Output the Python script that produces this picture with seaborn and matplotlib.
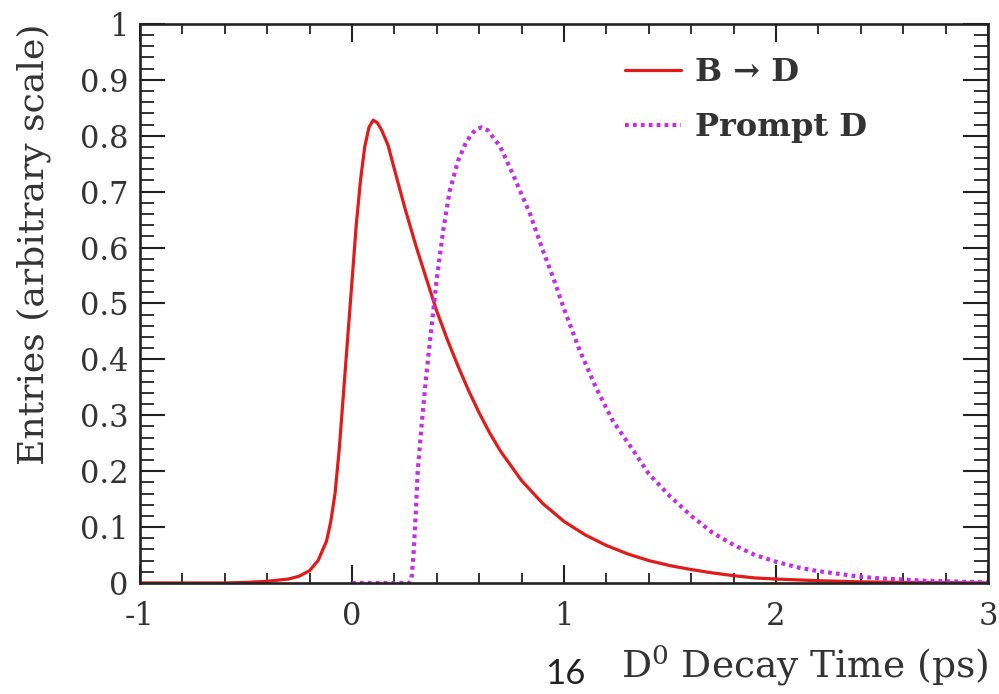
#!/usr/bin/env python3
# -*- coding: utf-8 -*-
"""D0 decay time distributions: B -> D versus prompt D."""

import matplotlib
matplotlib.use('Agg')
import matplotlib.pyplot as plt
from matplotlib.ticker import MultipleLocator
import seaborn as sns

# 数据：曲线点
t_bd = [-1.0, -0.6, -0.5, -0.4, -0.3, -0.25, -0.2, -0.16, -0.12, -0.1, -0.08,
        -0.06, -0.04, -0.02, 0.0, 0.02, 0.04, 0.06, 0.08, 0.1, 0.12, 0.14,
        0.17, 0.2, 0.25, 0.3, 0.35, 0.4, 0.45, 0.5, 0.55, 0.6, 0.65, 0.7,
        0.8, 0.9, 1.0, 1.1, 1.2, 1.3, 1.4, 1.5, 1.6, 1.7, 1.8, 1.9, 2.0, 2.2,
        2.4, 2.6, 2.8, 3.0]
y_bd = [0.0, 0.0, 0.001, 0.003, 0.007, 0.012, 0.022, 0.04, 0.075, 0.11, 0.16,
        0.24, 0.34, 0.44, 0.54, 0.64, 0.72, 0.78, 0.815, 0.828, 0.823, 0.81,
        0.783, 0.74, 0.67, 0.605, 0.545, 0.486, 0.435, 0.388, 0.344, 0.304,
        0.268, 0.236, 0.183, 0.142, 0.11, 0.086, 0.067, 0.052, 0.04, 0.031,
        0.024, 0.018, 0.013, 0.009, 0.007, 0.004, 0.002, 0.001, 0.0005, 0.0]

t_prompt = [0.0, 0.27, 0.28, 0.29, 0.3, 0.31, 0.33, 0.35, 0.37, 0.4, 0.43,
            0.46, 0.5, 0.54, 0.58, 0.61, 0.64, 0.67, 0.7, 0.76, 0.8, 0.84,
            0.9, 0.95, 1.0, 1.075, 1.15, 1.23, 1.33, 1.4, 1.5, 1.6, 1.7, 1.8,
            1.9, 2.0, 2.1, 2.2, 2.3, 2.4, 2.5, 2.6, 2.7, 2.8, 2.9, 3.0]
y_prompt = [0.0, 0.0, 0.005, 0.05, 0.12, 0.2, 0.29, 0.37, 0.44, 0.545, 0.63,
            0.70, 0.755, 0.79, 0.81, 0.815, 0.81, 0.795, 0.78, 0.73, 0.695,
            0.66, 0.595, 0.545, 0.49, 0.415, 0.35, 0.29, 0.235, 0.195, 0.155,
            0.12, 0.09, 0.068, 0.05, 0.038, 0.028, 0.021, 0.016, 0.011, 0.008,
            0.006, 0.004, 0.003, 0.002, 0.001]

x_ticks = [-1, 0, 1, 2, 3]
x_tick_labels = ['-1', '0', '1', '2', '3']
y_ticks = [0.0, 0.1, 0.2, 0.3, 0.4, 0.5, 0.6, 0.7, 0.8, 0.9, 1.0]
y_tick_labels = ['0', '0.1', '0.2', '0.3', '0.4', '0.5', '0.6', '0.7',
                 '0.8', '0.9', '1']

# 样式
sns.set_style('ticks')
plt.rcParams['font.family'] = ['DejaVu Serif']
plt.rcParams['mathtext.fontset'] = 'dejavuserif'

fig = plt.figure(figsize=(9.99, 6.94), dpi=100)
ax = fig.add_axes([0.1401, 0.16, 0.849, 0.8055])

sns.lineplot(x=t_bd, y=y_bd, ax=ax, color='#e01b1b', linewidth=2.3,
             label='B → D')
sns.lineplot(x=t_prompt, y=y_prompt, ax=ax, color='#c030e0', linewidth=3.0,
             linestyle=(0, (0.9, 1.0)), label='Prompt D')

ax.set_xlim(-1, 3)
ax.set_ylim(0, 1)
ax.set_xticks(x_ticks)
ax.set_xticklabels(x_tick_labels)
ax.set_yticks(y_ticks)
ax.set_yticklabels(y_tick_labels)
ax.xaxis.set_minor_locator(MultipleLocator(0.2))
ax.yaxis.set_minor_locator(MultipleLocator(0.02))

ax.tick_params(which='both', direction='in', top=True, right=True,
               colors='#222222', labelcolor='#333333')
ax.tick_params(axis='x', which='major', length=13, width=1.5, pad=13,
               labelsize=22)
ax.tick_params(axis='x', which='minor', length=7, width=1.3)
ax.tick_params(axis='y', which='major', length=18, width=1.5, pad=8,
               labelsize=22)
ax.tick_params(axis='y', which='minor', length=10, width=1.3)
for spine in ax.spines.values():
    spine.set_linewidth(1.9)
    spine.set_color('#222222')

ax.set_ylabel('Entries (arbitrary scale)', fontsize=26, color='#333333',
              loc='top')
ax.yaxis.set_label_coords(-0.105, 1.0)
ax.set_xlabel('D$^0$ Decay Time (ps)', fontsize=27, color='#333333',
              loc='right')
ax.xaxis.set_label_coords(1.0, -0.108)

leg = ax.legend(loc='upper left', bbox_to_anchor=(0.572, 0.94),
                frameon=False, borderpad=0, borderaxespad=0,
                handlelength=1.75, handletextpad=0.45, labelspacing=0.75,
                prop={'family': 'DejaVu Serif', 'weight': 'bold', 'size': 23})
for txt in leg.get_texts():
    txt.set_color('#333333')

fig.text(565 / 999, 1 - 658 / 694, '16', fontfamily='Lato', fontsize=25,
         ha='center', va='top', color='#222222')

fig.savefig('out.png', dpi=100)
